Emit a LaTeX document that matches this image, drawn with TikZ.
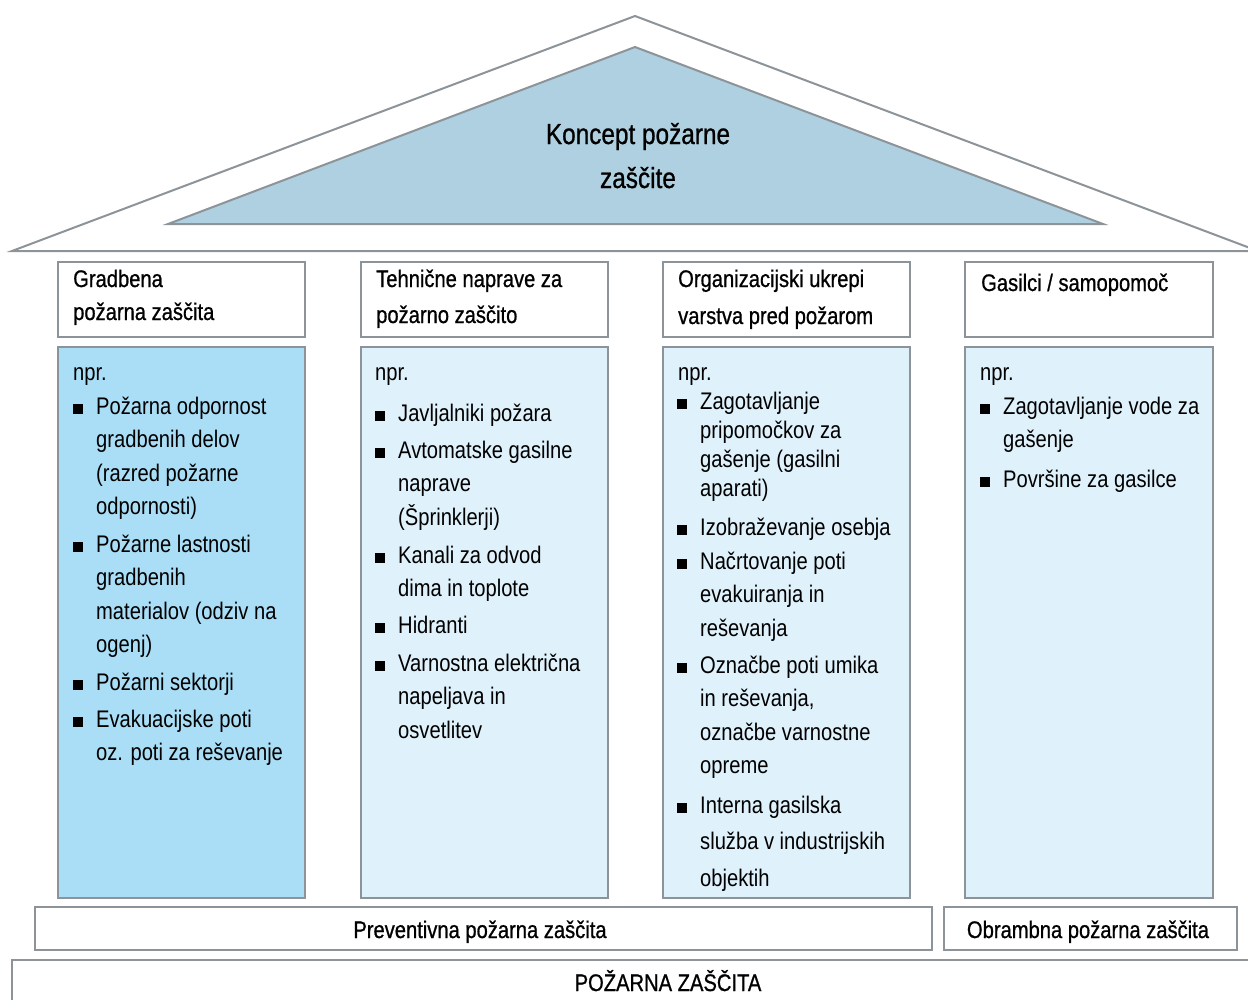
\documentclass[tikz,border=0pt]{standalone}
\usepackage{fontspec}
\setmainfont{Liberation Sans}[FakeStretch=0.84]
\newfontfamily\headfont{Liberation Sans}[FakeStretch=0.84,FakeBold=0.8]

\definecolor{framegray}{RGB}{140,148,153}
\definecolor{roofblue}{RGB}{175,208,224}
\definecolor{pillardark}{RGB}{169,222,246}
\definecolor{pillarlight}{RGB}{223,241,251}

\tikzset{
  frame/.style={draw=framegray, line width=2pt},
  headtext/.style={anchor=base west, inner sep=0pt, font=\headfont\fontsize{24}{30}\selectfont},
  itemtext/.style={anchor=base west, inner sep=0pt, font=\fontsize{24}{30}\selectfont},
  bartext/.style={anchor=base, inner sep=0pt, font=\headfont\fontsize{24}{30}\selectfont},
}
% lines of a text, baseline of the box = baseline of the first line
\newcommand{\lines}[2][33.5pt]{\vtop{\baselineskip=#1\lineskiplimit=-\maxdimen\halign{##\hfil\cr#2\crcr}}}
\newcommand{\clines}[2][44pt]{\vtop{\baselineskip=#1\lineskiplimit=-\maxdimen\halign{\hfil##\hfil\cr#2\crcr}}}
% bullet in front of a list item
\newcommand{\bul}[1]{\fill ([xshift=-23pt]#1.base west) rectangle +(9.5,-10);}

\begin{document}
\begin{tikzpicture}[x=1pt,y=-1pt]
  \useasboundingbox (0,0) rectangle (1248,999);

  % roof
  \draw[frame, fill=white] (12,251) -- (635,16) -- (1258,251) -- cycle;
  \draw[frame, fill=roofblue] (168,224) -- (635,47) -- (1103,224) -- cycle;
  \node[anchor=base, inner sep=0pt, font=\headfont\fontsize{29}{44}\selectfont]
    (concept) at (638,144) {\clines{Koncept požarne\cr zaščite}};

  % pillar heads
  \draw[frame, fill=white] (58,262) rectangle (305,337);
  \draw[frame, fill=white] (361,262) rectangle (608,337);
  \draw[frame, fill=white] (663,262) rectangle (910,337);
  \draw[frame, fill=white] (965,262) rectangle (1213,337);
  \node[headtext] (headA) at (73,287) {\lines[33pt]{Gradbena\cr požarna zaščita}};
  \node[headtext] (headB) at (376,287) {\lines[36pt]{Tehnične naprave za\cr požarno zaščito}};
  \node[headtext] (headC) at (678,287) {\lines[37pt]{Organizacijski ukrepi\cr varstva pred požarom}};
  \node[headtext] (headD) at (981,291) {Gasilci / samopomoč};

  % pillars
  \draw[frame, fill=pillardark] (58,347) rectangle (305,898);
  \draw[frame, fill=pillarlight] (361,347) rectangle (608,898);
  \draw[frame, fill=pillarlight] (663,347) rectangle (910,898);
  \draw[frame, fill=pillarlight] (965,347) rectangle (1213,898);

  % pillar A
  \node[itemtext] (nprA) at (73,380) {npr.};
  \node[itemtext] (a1) at (96,414) {\lines{Požarna odpornost\cr gradbenih delov\cr (razred požarne\cr odpornosti)}};
  \node[itemtext] (a2) at (96,552) {\lines{Požarne lastnosti\cr gradbenih\cr materialov (odziv na\cr ogenj)}};
  \node[itemtext] (a3) at (96,690) {Požarni sektorji};
  \node[itemtext] (a4) at (96,727) {\lines{Evakuacijske poti\cr oz. poti za reševanje}};
  \bul{a1} \bul{a2} \bul{a3} \bul{a4}

  % pillar B
  \node[itemtext] (nprB) at (375,380) {npr.};
  \node[itemtext] (b1) at (398,421) {Javljalniki požara};
  \node[itemtext] (b2) at (398,458) {\lines{Avtomatske gasilne\cr naprave\cr (Šprinklerji)}};
  \node[itemtext] (b3) at (398,563) {\lines{Kanali za odvod\cr dima in toplote}};
  \node[itemtext] (b4) at (398,633) {Hidranti};
  \node[itemtext] (b5) at (398,671) {\lines{Varnostna električna\cr napeljava in\cr osvetlitev}};
  \bul{b1} \bul{b2} \bul{b3} \bul{b4} \bul{b5}

  % pillar C
  \node[itemtext] (nprC) at (678,380) {npr.};
  \node[itemtext] (c1) at (700,409) {\lines[29pt]{Zagotavljanje\cr pripomočkov za\cr gašenje (gasilni\cr aparati)}};
  \node[itemtext] (c2) at (700,535) {Izobraževanje osebja};
  \node[itemtext] (c3) at (700,569) {\lines{Načrtovanje poti\cr evakuiranja in\cr reševanja}};
  \node[itemtext] (c4) at (700,673) {\lines{Označbe poti umika\cr in reševanja,\cr označbe varnostne\cr opreme}};
  \node[itemtext] (c5) at (700,813) {\lines[36.5pt]{Interna gasilska\cr služba v industrijskih\cr objektih}};
  \bul{c1} \bul{c2} \bul{c3} \bul{c4} \bul{c5}

  % pillar D
  \node[itemtext] (nprD) at (980,380) {npr.};
  \node[itemtext] (d1) at (1003,414) {\lines{Zagotavljanje vode za\cr gašenje}};
  \node[itemtext] (d2) at (1003,487) {Površine za gasilce};
  \bul{d1} \bul{d2}

  % foundation
  \draw[frame, fill=white] (35,907) rectangle (932,950);
  \draw[frame, fill=white] (944,907) rectangle (1237,950);
  \draw[frame, fill=white] (12,1012) -- (12,960) -- (1262,960);
  \node[bartext] (prev) at (480,938) {Preventivna požarna zaščita};
  \node[bartext] (obr) at (1088,938) {Obrambna požarna zaščita};
  \node[bartext] (base) at (668,991) {POŽARNA ZAŠČITA};
\end{tikzpicture}
\end{document}
